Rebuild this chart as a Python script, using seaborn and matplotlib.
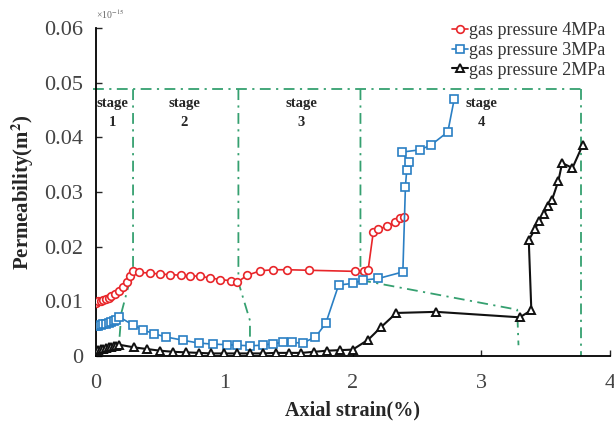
import matplotlib
matplotlib.use("Agg")
import matplotlib.pyplot as plt
import seaborn as sns
import pandas as pd

# ---------------- data ----------------
red_x = [0, 0.02, 0.04, 0.06, 0.08, 0.10, 0.12, 0.15, 0.18, 0.21, 0.24, 0.27, 0.29,
         0.34, 0.42, 0.50, 0.58, 0.66, 0.73, 0.81, 0.89, 0.97, 1.05, 1.10,
         1.18, 1.28, 1.38, 1.49, 1.66, 2.02, 2.09, 2.12, 2.16, 2.20, 2.27, 2.33, 2.37, 2.40]
red_y = [0.0098, 0.0100, 0.0101, 0.0103, 0.0105, 0.0107, 0.0110, 0.0114, 0.0119, 0.0126, 0.0135, 0.0146, 0.0155,
         0.0153, 0.0152, 0.0150, 0.0149, 0.0148, 0.0147, 0.0146, 0.0143, 0.0140, 0.0138, 0.0135,
         0.0148, 0.0156, 0.0158, 0.0158, 0.0157, 0.0155, 0.0156, 0.0158, 0.0227, 0.0232, 0.0238, 0.0245, 0.0252, 0.0255]

blue_x = [0, 0.02, 0.04, 0.06, 0.08, 0.10, 0.12, 0.14, 0.16, 0.18,
          0.29, 0.37, 0.45, 0.55, 0.68, 0.80, 0.91, 1.02, 1.10, 1.20, 1.30, 1.38, 1.46, 1.53, 1.61,
          1.71, 1.79, 1.89, 2.00, 2.08, 2.20, 2.39, 2.41, 2.42, 2.44, 2.38, 2.52, 2.61, 2.74, 2.79]
blue_y = [0.0055, 0.0056, 0.0057, 0.0058, 0.0059, 0.0060, 0.0062, 0.0064, 0.0067, 0.0072,
          0.0057, 0.0048, 0.0041, 0.0035, 0.0029, 0.0024, 0.0022, 0.0021, 0.0020, 0.0019, 0.0020, 0.0023, 0.0025, 0.0025, 0.0024,
          0.0035, 0.0060, 0.0130, 0.0133, 0.0139, 0.0142, 0.0154, 0.0310, 0.0340, 0.0355, 0.0373, 0.0377, 0.0386, 0.0410, 0.0470]

black_x = [0, 0.02, 0.04, 0.06, 0.08, 0.10, 0.12, 0.14, 0.16, 0.18,
           0.30, 0.40, 0.50, 0.60, 0.70, 0.80, 0.90, 1.00, 1.10, 1.20, 1.30, 1.40, 1.50, 1.60, 1.70, 1.80, 1.90, 2.00,
           2.12, 2.22, 2.34, 2.65, 3.30, 3.39, 3.37, 3.42, 3.45, 3.49, 3.52, 3.55, 3.60, 3.63, 3.71, 3.79]
black_y = [0.0010, 0.0012, 0.0013, 0.0014, 0.0015, 0.0016, 0.0017, 0.0018, 0.0019, 0.0021,
           0.0016, 0.0013, 0.0010, 0.0008, 0.0007, 0.0006, 0.0005, 0.0005, 0.0005, 0.0005, 0.0005, 0.0006, 0.0006, 0.0006, 0.0008, 0.0010, 0.0011, 0.0012,
           0.0030, 0.0053, 0.0079, 0.0081, 0.0071, 0.0084, 0.0212, 0.0233, 0.0247, 0.0260, 0.0275, 0.0285, 0.0320, 0.0353, 0.0344, 0.0386]

series_labels = ["gas pressure 4MPa", "gas pressure 3MPa", "gas pressure 2MPa"]

# stage boundary guide lines
top_x = [-0.02, 3.78]
top_y = [0.0488, 0.0488]
b1_x = [0.29, 0.29, 0.20, 0.18]
b1_y = [0.0488, 0.0160, 0.0080, 0.0020]
b2_x = [1.11, 1.11, 1.20, 1.20]
b2_y = [0.0488, 0.0135, 0.0065, 0.0015]
b3_x = [2.06, 2.06, 3.28, 3.29]
b3_y = [0.0488, 0.0139, 0.0085, 0.0020]
b4_x = [3.78, 3.78]
b4_y = [0.0488, 0.0]

stage_names = ["1", "2", "3", "4"]
stage_x = [0.13, 0.69, 1.60, 3.00]

x_ticks = [0, 1, 2, 3, 4]
y_ticks = [0, 0.01, 0.02, 0.03, 0.04, 0.05, 0.06]
y_tick_labels = ["0", "0.01", "0.02", "0.03", "0.04", "0.05", "0.06"]

# ---------------- plot ----------------
sns.set_style("white")
plt.rcParams["font.family"] = ["Liberation Serif", "DejaVu Serif"]
plt.rcParams["mathtext.fontset"] = "stix"

fig = plt.figure(figsize=(6.14, 4.23), dpi=100)
ax = fig.add_axes([0.156, 0.158, 0.837, 0.776])

green = "#35a070"
for gx, gy in [(top_x, top_y), (b1_x, b1_y), (b2_x, b2_y), (b3_x, b3_y), (b4_x, b4_y)]:
    ax.plot(gx, gy, color=green, linestyle=(0, (6, 3, 1.2, 3)), linewidth=1.3, zorder=1, clip_on=False)

red_df = pd.DataFrame({"x": red_x, "y": red_y})
blue_df = pd.DataFrame({"x": blue_x, "y": blue_y})
black_df = pd.DataFrame({"x": black_x, "y": black_y})

ms = 5.5
sns.lineplot(data=red_df, x="x", y="y", sort=False, estimator=None, ax=ax,
             color="#e8262a", marker="o", markersize=ms, markerfacecolor="white",
             markeredgecolor="#e8262a", markeredgewidth=1.2, linewidth=1.2,
             label=series_labels[0], zorder=3)
sns.lineplot(data=blue_df, x="x", y="y", sort=False, estimator=None, ax=ax,
             color="#2a7fc4", marker="s", markersize=ms, markerfacecolor="white",
             markeredgecolor="#2a7fc4", markeredgewidth=1.2, linewidth=1.2,
             label=series_labels[1], zorder=3)
sns.lineplot(data=black_df, x="x", y="y", sort=False, estimator=None, ax=ax,
             color="#111111", marker="^", markersize=ms, markerfacecolor="white",
             markeredgecolor="#111111", markeredgewidth=1.4, linewidth=1.5,
             label=series_labels[2], zorder=3)

for name, sx in zip(stage_names, stage_x):
    ax.text(sx, 0.0462, "stage", ha="center", va="center", fontsize=10.5, fontweight="bold")
    ax.text(sx, 0.0428, name, ha="center", va="center", fontsize=10.5, fontweight="bold")

ax.set_xlim(0, 4)
ax.set_ylim(0, 0.06)
ax.set_xticks(x_ticks)
ax.set_xticklabels([str(t) for t in x_ticks])
ax.set_yticks(y_ticks)
ax.set_yticklabels(y_tick_labels)
ax.tick_params(direction="in", length=4, width=1, labelsize=16, labelcolor="#444444",
               left=True, bottom=True)
ax.tick_params(axis="y", pad=9)
ax.tick_params(axis="x", pad=13)
for s in ["top", "right"]:
    ax.spines[s].set_visible(False)
for s in ["left", "bottom"]:
    ax.spines[s].set_color("black")
    ax.spines[s].set_linewidth(1.3)

ax.set_xlabel("Axial strain(%)", fontsize=14.5, fontweight="bold", labelpad=5)
ax.set_ylabel("Permeability(m$^\\mathbf{2}$)", fontsize=15, fontweight="bold", labelpad=6)
ax.text(0.0, 1.02, "×10$^{-15}$", transform=ax.transAxes, fontsize=7, color="#666666",
        ha="left", va="bottom")

leg = ax.legend(loc="upper right", bbox_to_anchor=(1.012, 1.05), frameon=False, fontsize=13,
                handlelength=0.9, handletextpad=0.05, labelspacing=0.15, borderaxespad=0.2)
for t in leg.get_texts():
    t.set_color("#333333")

fig.savefig("out.png", dpi=100)
